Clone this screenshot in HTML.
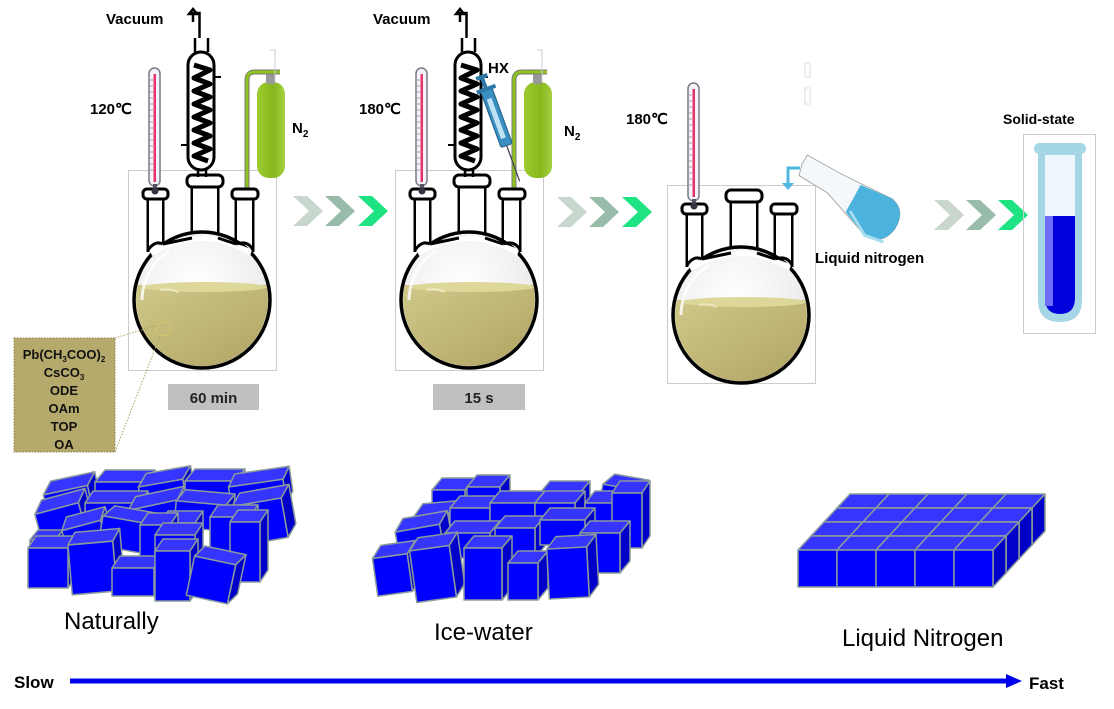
<!DOCTYPE html>
<html><head><meta charset="utf-8">
<style>
html,body{margin:0;padding:0;background:#fff;}
svg{display:block;font-family:"Liberation Sans",Arial,sans-serif;}
.b{font-weight:bold;}
</style></head><body>
<svg id="s" width="1114" height="709" viewBox="0 0 1114 709" xmlns="http://www.w3.org/2000/svg">
<defs>
 <radialGradient id="glass" cx="0.45" cy="0.35" r="0.7">
  <stop offset="0" stop-color="#ffffff"/><stop offset="0.7" stop-color="#eeeeee"/><stop offset="1" stop-color="#b8b8b8"/>
 </radialGradient>
 <linearGradient id="liq" x1="0" y1="0" x2="1" y2="1">
  <stop offset="0" stop-color="#cfc98a"/><stop offset="0.6" stop-color="#bcb170"/><stop offset="1" stop-color="#a99f5e"/>
 </linearGradient>
 <linearGradient id="cyl" x1="0" y1="0" x2="1" y2="0">
  <stop offset="0" stop-color="#9ccb2e"/><stop offset="0.6" stop-color="#86b81e"/><stop offset="1" stop-color="#a6d040"/>
 </linearGradient>
 <clipPath id="bulbclip"><circle cx="202" cy="300" r="66"/></clipPath>
 <g id="flask">
  <path d="M148 198 V252 M163 198 V246 M192 186 V240 M218 186 V240 M236 198 V246 M253 198 V252" stroke="#000" stroke-width="3" fill="none"/>
  <rect x="149" y="198" width="13" height="52" fill="#fff"/>
  <rect x="193" y="186" width="24" height="56" fill="#fff"/>
  <rect x="237" y="198" width="15" height="52" fill="#fff"/>
  <circle cx="202" cy="300" r="68" fill="url(#glass)" stroke="#000" stroke-width="3.5"/>
  <path d="M150 250 Q160 244 163 244 L192 238 Q202 234 218 238 L236 244 Q245 246 252 250 L250 256 Q202 226 152 256Z" fill="#fff"/>
  <path d="M148 250 Q155 240 163 244 M163 244 L192 238 M218 238 L236 244 M236 244 Q248 240 253 250" stroke="#000" stroke-width="3" fill="none"/>
  <g clip-path="url(#bulbclip)">
   <rect x="130" y="285" width="150" height="90" fill="url(#liq)"/>
   <ellipse cx="205" cy="287" rx="62" ry="5" fill="#ddd79a"/>
   <path d="M160 290 Q170 288 178 292" stroke="#ece8c0" stroke-width="2" fill="none"/>
  </g>
  <path d="M142 300 A60 60 0 0 1 170 250" stroke="#fff" stroke-width="3" fill="none" opacity="0.8"/>
  <rect x="143" y="189" width="25" height="10" rx="4" fill="#fff" stroke="#000" stroke-width="3"/>
  <rect x="187" y="175" width="36" height="12" rx="5" fill="#fff" stroke="#000" stroke-width="3"/>
  <rect x="232" y="189" width="26" height="10" rx="4" fill="#fff" stroke="#000" stroke-width="3"/>
 </g>
 <g id="thermo">
  <rect x="149" y="68" width="11" height="118" rx="5.5" fill="#f4f4f8" stroke="#777a88" stroke-width="1.5"/>
  <rect x="153.5" y="74" width="2.5" height="108" fill="#e8336c"/>
  <path d="M150 80 h3 M150 86 h3 M150 92 h3 M150 98 h3 M150 104 h3 M150 110 h3 M150 116 h3 M150 122 h3 M150 128 h3 M150 134 h3 M150 140 h3 M150 146 h3 M150 152 h3 M150 158 h3 M150 164 h3 M150 170 h3" stroke="#888" stroke-width="0.8"/>
  <rect x="153" y="184" width="4" height="8" fill="#556"/>
  <circle cx="155" cy="191" r="3.5" fill="#334"/>
 </g>
 <g id="cond">
  <path d="M195 38 V52 M208 38 V52" stroke="#000" stroke-width="2.5" fill="none"/>
  <rect x="188" y="52" width="26" height="118" rx="13" fill="#fff" stroke="#000" stroke-width="3"/>
  <path d="M194 65 L210 70 L194 78 L210 84 L194 91 L210 97 L194 104 L210 110 L194 117 L210 123 L194 130 L210 136 L194 143 L210 149 L194 156 L208 161" stroke="#000" stroke-width="5" fill="none" stroke-linejoin="round"/>
  <path d="M214 77 h7 M181 145 h7" stroke="#000" stroke-width="2"/>
  <path d="M198 168 V177 M206 168 V177" stroke="#000" stroke-width="2.5"/>
  <path d="M199.5 38 V13 H193 V22 M193 9 L189 14 H197Z" stroke="#000" stroke-width="2.5" fill="none"/>
 </g>
 <g id="n2">
  <rect x="257" y="82" width="28" height="96" rx="12" fill="url(#cyl)"/>
  <rect x="266" y="72" width="9" height="12" fill="#999"/>
  <path d="M247 250 V80 Q247 72 255 72 H280" stroke="#7a7a7a" stroke-width="5" fill="none"/>
  <path d="M247 250 V80 Q247 72 255 72 H280" stroke="#8dc21f" stroke-width="3" fill="none"/>
  <path d="M270 50 h5 V82" stroke="#ccc" stroke-width="1" fill="none"/>
 </g>
 <g id="chev">
  <path d="M0 0 H14 L30 15 L14 30 H0 L16 15Z"/>
 </g>
</defs>

<rect x="128.5" y="170.5" width="148" height="200" fill="none" stroke="#ccc" stroke-width="1"/>
<use href="#n2"/>
<use href="#flask"/>
<use href="#thermo"/>
<use href="#cond"/>
<text x="106" y="24" font-size="15" class="b">Vacuum</text>
<text x="90" y="114" font-size="15" class="b">120℃</text>
<text x="292" y="133" font-size="15" class="b">N<tspan font-size="10" dy="4">2</tspan></text>

<g transform="translate(267,0)">
<rect x="128.5" y="170.5" width="148" height="200" fill="none" stroke="#ccc" stroke-width="1"/>
<use href="#n2"/>
<use href="#flask"/>
<use href="#thermo"/>
<use href="#cond"/>
<g transform="translate(226,108) rotate(-20)">
 <rect x="-6" y="-20" width="12" height="60" rx="2" fill="#3b8fc0" stroke="#1f5f86" stroke-width="1"/>
 <rect x="-3" y="-10" width="5" height="42" fill="#bfe2f4"/>
 <rect x="-10" y="-22" width="20" height="4" fill="#2c78a8"/>
 <rect x="-2" y="-32" width="4" height="12" fill="#2c78a8"/>
 <rect x="-6" y="-35" width="12" height="4" fill="#2c78a8"/>
 <path d="M0 40 V78" stroke="#445" stroke-width="1.3"/>
</g>
</g>
<text x="373" y="24" font-size="15" class="b">Vacuum</text>
<text x="488" y="73" font-size="15" class="b">HX</text>
<text x="359" y="114" font-size="15" class="b">180℃</text>
<text x="564" y="136" font-size="15" class="b">N<tspan font-size="10" dy="4">2</tspan></text>

<g transform="translate(539,15)">
<rect x="128.5" y="170.5" width="148" height="198" fill="none" stroke="#ccc" stroke-width="1"/>
<use href="#flask"/>
<use href="#thermo"/>
</g>
<rect x="805" y="63" width="5" height="14" fill="none" stroke="#ddd"/>
<rect x="805" y="88" width="5" height="16" fill="none" stroke="#ddd"/>
<text x="626" y="124" font-size="15" class="b">180℃</text>
<path d="M800 168 H788 V183" stroke="#4fb8e0" stroke-width="3" fill="none"/>
<path d="M782 183 H794 L788 190Z" fill="#4fb8e0"/>
<g transform="translate(802,164) rotate(14)">
 <path d="M0 0 L3 -10 L40 0 L96 12 Q112 20 106 40 Q98 60 78 54 L32 22 L0 12Z" fill="#f4f8fa" stroke="#999" stroke-width="0.8"/>
 <path d="M62 6 L96 12 Q112 20 106 40 Q98 60 78 54 L54 36Z" fill="#4bb3dd"/>
 <path d="M58 34 L78 54 L98 56" stroke="#a6dcf0" stroke-width="3" fill="none"/>
</g>
<text x="815" y="263" font-size="15" class="b">Liquid nitrogen</text>

<g fill="#c9d6cd"><use href="#chev" x="293" y="196"/></g>
<g fill="#98bca9"><use href="#chev" x="325" y="196"/></g>
<g fill="#1ee383"><use href="#chev" x="358" y="196"/></g>
<g fill="#c9d6cd"><use href="#chev" x="557" y="197"/></g>
<g fill="#98bca9"><use href="#chev" x="589" y="197"/></g>
<g fill="#1ee383"><use href="#chev" x="622" y="197"/></g>
<g fill="#c9d6cd"><use href="#chev" x="934" y="200"/></g>
<g fill="#98bca9"><use href="#chev" x="966" y="200"/></g>
<g fill="#1ee383"><use href="#chev" x="998" y="200"/></g>

<text x="1003" y="124" font-size="14" class="b">Solid-state</text>
<rect x="1023.5" y="134.5" width="72" height="199" fill="none" stroke="#ccc"/>
<rect x="1034" y="143" width="52" height="11" rx="5.5" fill="#a5d6e6"/>
<path d="M1038 150 V300 Q1038 322 1060 322 Q1082 322 1082 300 V150Z" fill="#a5d6e6"/>
<path d="M1045 155 V298 Q1045 314 1060 314 Q1075 314 1075 298 V155Z" fill="#eef6fd"/>
<path d="M1045 216 V298 Q1045 314 1060 314 Q1075 314 1075 298 V216Z" fill="#0000dd"/>
<rect x="1045" y="216" width="8" height="90" fill="#6c6cf6"/>

<rect x="168" y="384" width="91" height="26" fill="#c0c0c0"/>
<text x="213.5" y="403" font-size="15" class="b" text-anchor="middle" fill="#222">60 min</text>
<rect x="433" y="384" width="92" height="26" fill="#c0c0c0"/>
<text x="479" y="403" font-size="15" class="b" text-anchor="middle" fill="#222">15 s</text>

<circle cx="163" cy="329" r="7" fill="none" stroke="#e8d060" stroke-dasharray="1.5,1.5"/>
<path d="M115 338 L158 325 M115 452 L160 336" stroke="#b0a060" stroke-dasharray="1.5,1.5" fill="none"/>
<rect x="14" y="338" width="101" height="114" fill="#b5aa6c" stroke="#8a8050" stroke-dasharray="1.5,1.5"/>
<g font-size="13" class="b" text-anchor="middle" fill="#111">
<text x="64" y="359">Pb(CH<tspan font-size="8" dy="3">3</tspan><tspan dy="-3">COO)</tspan><tspan font-size="8" dy="3">2</tspan></text>
<text x="64" y="377">CsCO<tspan font-size="8" dy="3">3</tspan></text>
<text x="64" y="395">ODE</text>
<text x="64" y="413">OAm</text>
<text x="64" y="431">TOP</text>
<text x="64" y="449">OA</text>
</g>

<g id="cubes"></g>

<text x="64" y="629" font-size="24">Naturally</text>
<text x="434" y="640" font-size="24">Ice-water</text>
<text x="842" y="646" font-size="24">Liquid Nitrogen</text>

<text x="14" y="688" font-size="17" class="b">Slow</text>
<text x="1029" y="689" font-size="17" class="b">Fast</text>
<line x1="70" y1="681" x2="1010" y2="681" stroke="#0000ee" stroke-width="5"/>
<path d="M1006 674 L1022 681 L1006 688Z" fill="#0000ee"/>
</svg>
<script>
(function(){
var g=document.getElementById('cubes'),out='';
function cube(x,y,w,h,dx,dy,rot){
 var s='<g transform="rotate('+rot+' '+(x+w/2)+' '+(y+h/2)+')" stroke="#8b9a9a" stroke-width="1.5" stroke-linejoin="round">';
 s+='<path d="M'+x+' '+y+' l'+dx+' '+(-dy)+' h'+w+' l'+(-dx)+' '+dy+'Z" fill="#3535ff"/>';
 s+='<path d="M'+(x+w)+' '+y+' l'+dx+' '+(-dy)+' v'+h+' l'+(-dx)+' '+dy+'Z" fill="#0000c8"/>';
 s+='<rect x="'+x+'" y="'+y+'" width="'+w+'" height="'+h+'" fill="#0000ff"/>';
 return s+'</g>';
}
var N=[[45,490,45,20,10,12,-12],[95,482,50,20,10,12,0],[140,483,45,22,10,12,-10],[185,481,50,18,10,12,0],[230,483,55,25,8,12,-8],
[38,508,45,30,10,12,-15],[85,503,55,22,8,12,0],[130,505,50,22,10,12,-12],[175,503,50,26,8,12,5],[235,502,50,40,10,12,-10],
[30,540,25,15,8,10,0],[65,525,40,30,8,12,-15],[100,520,50,30,10,12,10],[160,523,35,22,8,12,0],[210,517,40,40,8,12,0],
[28,548,40,40,8,12,0],[70,543,45,50,8,12,-5],[140,525,30,35,8,12,0],[155,535,40,45,8,12,0],[230,522,30,60,8,12,0],
[112,568,42,28,8,12,0],[155,551,35,50,8,12,0],[190,560,42,40,8,12,12]];
N.forEach(function(c){out+=cube.apply(null,c);});
var I=[[432,490,33,25,10,12,0],[467,487,33,25,10,12,0],[540,493,40,22,10,12,0],[600,487,35,30,10,12,10],
[415,515,35,25,10,12,-5],[450,508,40,25,10,12,0],[490,503,45,25,10,12,0],[535,503,40,30,10,12,0],[585,503,40,40,10,12,0],[612,493,30,55,8,12,0],
[397,528,45,25,10,12,-10],[445,533,45,25,10,12,0],[495,528,40,30,10,12,0],[540,520,45,25,10,12,0],[580,533,40,40,10,12,0],
[375,556,35,38,10,12,-8],[413,548,40,52,10,12,-8],[464,548,38,52,10,12,0],[508,563,30,37,10,12,0],[548,548,40,50,10,12,-3]];
I.forEach(function(c){out+=cube.apply(null,c);});
for(var row=3;row>=0;row--){
 for(var col=0;col<5;col++){
  var x=798+col*39+row*13, y=550-row*14;
  out+=cube(x,y,39,37,13,14,0);
 }
}
g.innerHTML=out;
})();
</script>
</body></html>
